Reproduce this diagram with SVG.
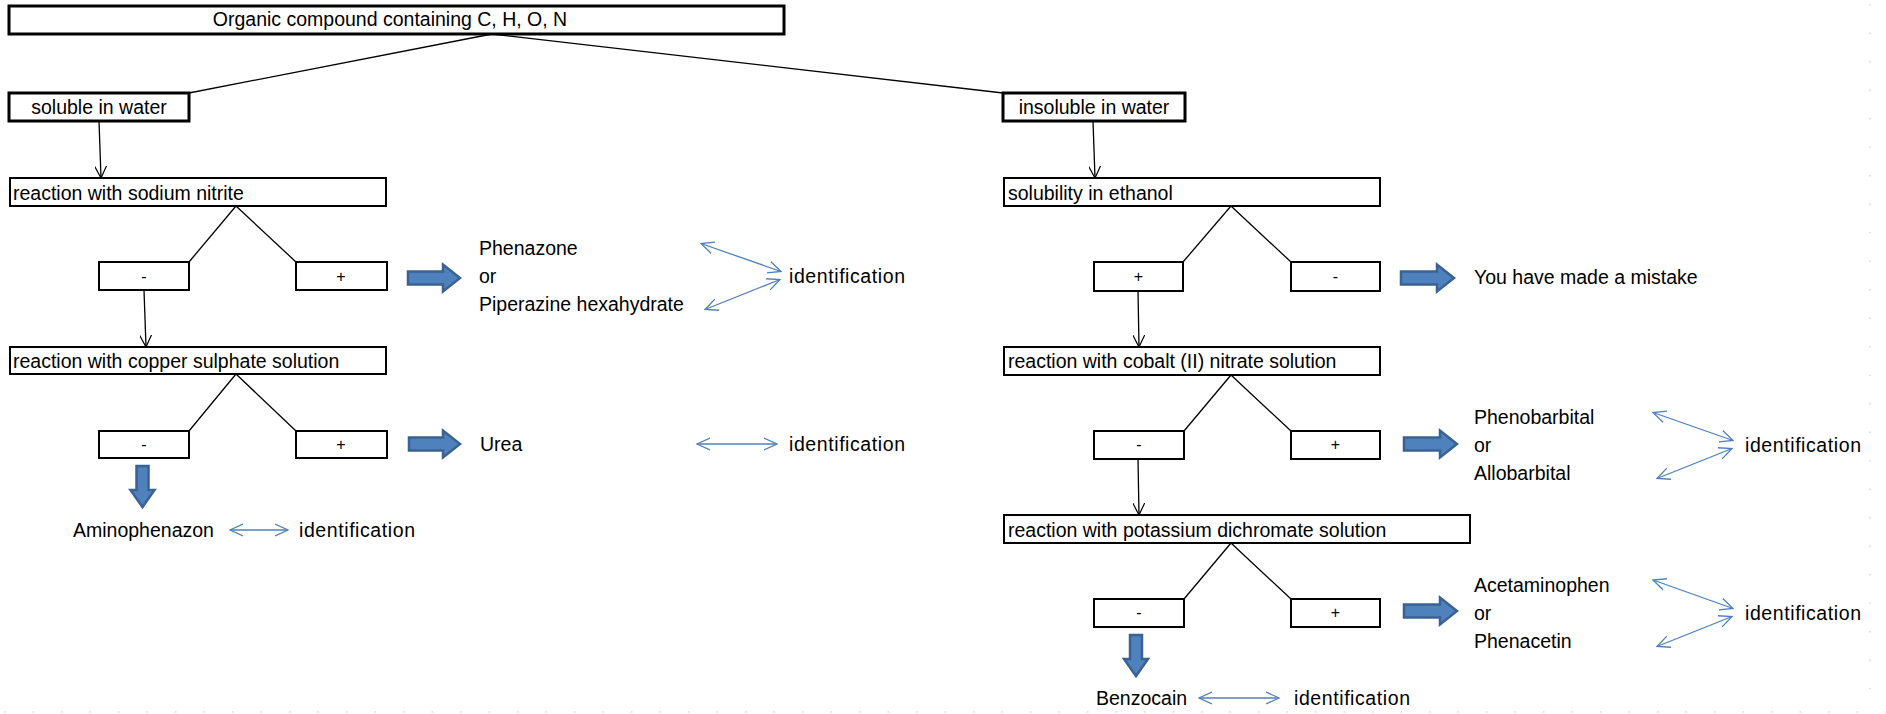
<svg xmlns="http://www.w3.org/2000/svg" width="1886" height="714" viewBox="0 0 1886 714">
<style>
.box{fill:#fff;stroke:#000;stroke-width:2}
.thick{stroke-width:3}
.t{font-family:"Liberation Sans",Arial,sans-serif;font-size:19.5px;fill:#000}
.s{font-size:16px;text-anchor:middle}
.c{text-anchor:middle}
.ln{stroke:#000;stroke-width:1.3;fill:none}
.ar{marker-end:url(#ah)}
.bl{stroke:#4f81bd;stroke-width:1.3;fill:none;marker-start:url(#bh);marker-end:url(#bh)}
.blk{fill:#4f81bd;stroke:#3a6293;stroke-width:2.5;stroke-linejoin:miter}
.dot{stroke:#d6d6d6;stroke-width:1.5;stroke-dasharray:1.5 27}
</style>
<defs>
<marker id="ah" viewBox="0 0 12 12" refX="12" refY="6" markerWidth="12" markerHeight="12" orient="auto" markerUnits="userSpaceOnUse">
<path d="M0,0 L12,6 L0,12" fill="none" stroke="#000" stroke-width="1.2"/>
</marker>
<marker id="bh" viewBox="0 0 14 14" refX="13" refY="7" markerWidth="14" markerHeight="14" orient="auto-start-reverse" markerUnits="userSpaceOnUse">
<path d="M0,1 L13,7 L0,13" fill="none" stroke="#4f81bd" stroke-width="1.3"/>
</marker>
</defs>
<rect width="1886" height="714" fill="#fff"/>
<line class="dot" x1="1870" y1="4" x2="1870" y2="714"/>
<line class="dot" x1="4" y1="712" x2="1886" y2="712"/>

<g id="connectors">
<line class="ln" x1="492" y1="34" x2="189" y2="93"/>
<line class="ln" x1="492" y1="34" x2="1003" y2="93"/>
<line class="ln ar" x1="99" y1="121" x2="101" y2="178"/>
<line class="ln" x1="236" y1="206" x2="189" y2="262"/>
<line class="ln" x1="236" y1="206" x2="296" y2="262"/>
<line class="ln ar" x1="144" y1="290" x2="146" y2="347"/>
<line class="ln" x1="236" y1="374" x2="189" y2="431"/>
<line class="ln" x1="236" y1="374" x2="296" y2="431"/>
<line class="ln ar" x1="1093" y1="121" x2="1095" y2="178"/>
<line class="ln" x1="1231" y1="206" x2="1183" y2="262"/>
<line class="ln" x1="1231" y1="206" x2="1291" y2="262"/>
<line class="ln ar" x1="1138" y1="291" x2="1139" y2="347"/>
<line class="ln" x1="1231" y1="375" x2="1184" y2="431"/>
<line class="ln" x1="1231" y1="375" x2="1291" y2="431"/>
<line class="ln ar" x1="1138" y1="459" x2="1139" y2="515"/>
<line class="ln" x1="1231" y1="543" x2="1184" y2="599"/>
<line class="ln" x1="1231" y1="543" x2="1291" y2="599"/>
<path class="blk" d="M408,271.5 H443 V264.5 L460,278 L443,291.5 V284.5 H408 Z"/>
<path class="blk" d="M409,437.5 H443 V430.5 L460,444 L443,457.5 V450.5 H409 Z"/>
<path class="blk" d="M1401,271.5 H1437 V264.5 L1454,278 L1437,291.5 V284.5 H1401 Z"/>
<path class="blk" d="M1404,437.5 H1440 V430.5 L1457,444 L1440,457.5 V450.5 H1404 Z"/>
<path class="blk" d="M1404,604.5 H1440 V597.5 L1457,611 L1440,624.5 V617.5 H1404 Z"/>
<path class="blk" d="M136.5,466 V490 H130.5 L142.5,507 L154.5,490 H148.5 V466 Z"/>
<path class="blk" d="M1130,635 V659 H1124 L1136,676 L1148,659 H1142 V635 Z"/>
<line class="bl" x1="701" y1="243.5" x2="781" y2="271.5"/>
<line class="bl" x1="705" y1="309.5" x2="780" y2="279.5"/>
<line class="bl" x1="697" y1="444" x2="777" y2="444"/>
<line class="bl" x1="230" y1="530" x2="288" y2="530"/>
<line class="bl" x1="1653" y1="412.5" x2="1733" y2="440.5"/>
<line class="bl" x1="1657" y1="478.5" x2="1732" y2="448.5"/>
<line class="bl" x1="1199" y1="698" x2="1279" y2="698"/>
<line class="bl" x1="1653" y1="580" x2="1733" y2="608.5"/>
<line class="bl" x1="1657" y1="646.5" x2="1732" y2="616.5"/>
</g>

<g id="root"><rect class="box thick" x="9" y="6" width="775" height="28"/><text class="t c" x="390" y="26" font-size="17.5">Organic compound containing C, H, O, N</text></g>
<g id="soluble"><rect class="box thick" x="9" y="93" width="180" height="28"/><text class="t c" x="99" y="113.5">soluble in water</text></g>
<g id="insoluble"><rect class="box thick" x="1003" y="93" width="182" height="28"/><text class="t c" x="1094" y="113.5">insoluble in water</text></g>

<g id="sodium"><rect class="box" x="10" y="178" width="376" height="28"/><text class="t" x="13" y="199.5">reaction with sodium nitrite</text></g>
<g id="sodium-neg"><rect class="box" x="99" y="262" width="90" height="28"/><text class="t s" x="144" y="282">-</text></g>
<g id="sodium-pos"><rect class="box" x="296" y="262" width="91" height="28"/><text class="t s" x="341" y="282">+</text></g>
<g id="phenazone"><text class="t" x="479" y="255">Phenazone</text><text class="t" x="479" y="283">or</text><text class="t" x="479" y="311">Piperazine hexahydrate</text></g>
<g id="ident1"><text class="t" x="789" y="283" textLength="116" lengthAdjust="spacing">identification</text></g>

<g id="copper"><rect class="box" x="10" y="347" width="376" height="27"/><text class="t" x="13" y="368">reaction with copper sulphate solution</text></g>
<g id="copper-neg"><rect class="box" x="99" y="431" width="90" height="27"/><text class="t s" x="144" y="450">-</text></g>
<g id="copper-pos"><rect class="box" x="296" y="431" width="91" height="27"/><text class="t s" x="341" y="450">+</text></g>
<g id="urea"><text class="t" x="480" y="451">Urea</text></g>
<g id="ident2"><text class="t" x="789" y="451" textLength="116" lengthAdjust="spacing">identification</text></g>
<g id="aminophenazon"><text class="t" x="73" y="537">Aminophenazon</text></g>
<g id="ident3"><text class="t" x="299" y="537" textLength="116" lengthAdjust="spacing">identification</text></g>

<g id="ethanol"><rect class="box" x="1004" y="178" width="376" height="28"/><text class="t" x="1008" y="199.5">solubility in ethanol</text></g>
<g id="ethanol-pos"><rect class="box" x="1094" y="262" width="89" height="29"/><text class="t s" x="1138.5" y="282">+</text></g>
<g id="ethanol-neg"><rect class="box" x="1291" y="262" width="89" height="29"/><text class="t s" x="1335.5" y="282">-</text></g>
<g id="mistake"><text class="t" x="1474" y="284">You have made a mistake</text></g>

<g id="cobalt"><rect class="box" x="1004" y="347" width="376" height="28"/><text class="t" x="1008" y="368">reaction with cobalt (II) nitrate solution</text></g>
<g id="cobalt-neg"><rect class="box" x="1094" y="431" width="90" height="28"/><text class="t s" x="1139" y="450">-</text></g>
<g id="cobalt-pos"><rect class="box" x="1291" y="431" width="89" height="28"/><text class="t s" x="1335.5" y="450">+</text></g>
<g id="phenobarbital"><text class="t" x="1474" y="424">Phenobarbital</text><text class="t" x="1474" y="452">or</text><text class="t" x="1474" y="480">Allobarbital</text></g>
<g id="ident4"><text class="t" x="1745" y="452" textLength="116" lengthAdjust="spacing">identification</text></g>

<g id="potassium"><rect class="box" x="1004" y="515" width="466" height="28"/><text class="t" x="1008" y="536.5">reaction with potassium dichromate solution</text></g>
<g id="potassium-neg"><rect class="box" x="1094" y="599" width="90" height="28"/><text class="t s" x="1139" y="618">-</text></g>
<g id="potassium-pos"><rect class="box" x="1291" y="599" width="89" height="28"/><text class="t s" x="1335.5" y="618">+</text></g>
<g id="acetaminophen"><text class="t" x="1474" y="592">Acetaminophen</text><text class="t" x="1474" y="620">or</text><text class="t" x="1474" y="648">Phenacetin</text></g>
<g id="ident5"><text class="t" x="1745" y="620" textLength="116" lengthAdjust="spacing">identification</text></g>
<g id="benzocain"><text class="t" x="1096" y="705">Benzocain</text></g>
<g id="ident6"><text class="t" x="1294" y="705" textLength="116" lengthAdjust="spacing">identification</text></g>
</svg>
